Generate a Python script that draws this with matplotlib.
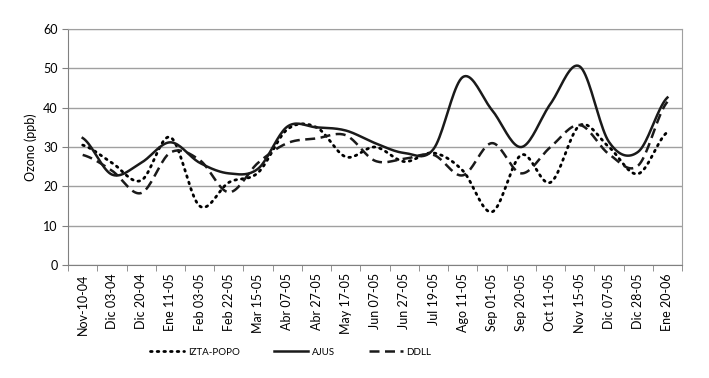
import numpy as np
import matplotlib.pyplot as plt

plt.rcParams['font.family'] = ['Lato', 'DejaVu Sans']

fechas = ['Nov-10-04', 'Dic 03-04', 'Dic 20-04', 'Ene 11-05', 'Feb 03-05', 'Feb 22-05',
          'Mar 15-05', 'Abr 07-05', 'Abr 27-05', 'May 17-05', 'Jun 07-05', 'Jun 27-05',
          'Jul 19-05', 'Ago 11-05', 'Sep 01-05', 'Sep 20-05', 'Oct 11-05', 'Nov 15-05',
          'Dic 07-05', 'Dic 28-05', 'Ene 20-06']
izta = [30.5, 26, 21.5, 32.5, 15, 21, 23.5, 34.5, 35, 27.5, 30, 26.3,
        28.5, 24, 13.5, 28, 21, 35.5, 30, 23.2, 33.8]
ajus = [32.3, 23, 26, 31.2, 26, 23.3, 24.5, 35.2, 35, 34.2, 31, 28.5,
        29.5, 47.8, 39.4, 30, 41, 50.5, 31.3, 28.8, 42.6]
ddll = [28, 24, 18.3, 28.6, 26.7, 18.5, 26, 31, 32.2, 33, 26.5, 27,
        28, 22.8, 31, 23.3, 30, 35.6, 28.2, 25.3, 41.5]


def suave(y, n=20):
    # curva suavizada tipo Excel (Catmull-Rom)
    x = np.arange(len(y), dtype=float)
    p = np.array(y, dtype=float)
    xs, ys = [], []
    for i in range(len(p) - 1):
        p0 = p[i - 1] if i > 0 else p[i]
        p3 = p[i + 2] if i + 2 < len(p) else p[i + 1]
        p1, p2 = p[i], p[i + 1]
        t = np.linspace(0, 1, n, endpoint=False)
        yy = 0.5 * ((2 * p1) + (-p0 + p2) * t + (2 * p0 - 5 * p1 + 4 * p2 - p3) * t**2
                    + (-p0 + 3 * p1 - 3 * p2 + p3) * t**3)
        xs.extend(x[i] + t)
        ys.extend(yy)
    xs.append(x[-1])
    ys.append(p[-1])
    return np.array(xs), np.array(ys)


fig = plt.figure(figsize=(7.09, 3.78), dpi=100)
ax = fig.add_axes([0.096, 0.299, 0.866, 0.624])

x, y = suave(izta)
ax.plot(x, y, color='black', lw=2, linestyle=(0, (0.6, 1.8)), dash_capstyle='round', label='IZTA-POPO')
x, y = suave(ajus)
ax.plot(x, y, color='#1a1a1a', lw=1.8, label='AJUS')
x, y = suave(ddll)
ax.plot(x, y, color='#1a1a1a', lw=1.8, linestyle=(0, (4, 2.2)), label='DDLL')

ax.set_ylim(0, 60)
ax.set_yticks(range(0, 61, 10))
ax.set_xlim(-0.5, len(fechas) - 0.5)
ax.set_xticks(range(len(fechas)))
ax.set_xticklabels(fechas, rotation=90, fontsize=9)
ax.set_xticks(np.arange(-0.5, len(fechas), 1), minor=True)
ax.tick_params(axis='x', which='major', length=0, pad=6)
ax.tick_params(axis='x', which='minor', length=4, color='#808080')
ax.tick_params(axis='y', length=4, color='#808080', labelsize=9)
ax.set_ylabel('Ozono (ppb)', fontsize=9)
ax.grid(axis='y', color='#a0a0a0', lw=1)
ax.set_axisbelow(True)
for s in ax.spines.values():
    s.set_color('#a0a0a0')
ax.spines['left'].set_color('#808080')
ax.spines['bottom'].set_color('#808080')

fig.legend(loc='center', bbox_to_anchor=(0.41, 0.068), ncol=3, frameon=False,
           fontsize=7, handlelength=3.5, handletextpad=0.4, columnspacing=3.5)
fig.savefig('out.png', dpi=100)
